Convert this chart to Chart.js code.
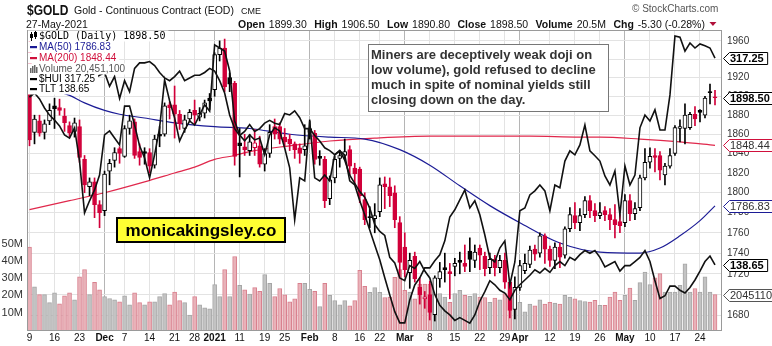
<!DOCTYPE html>
<html>
<head>
<meta charset="utf-8">
<script src="https://cdn.jsdelivr.net/npm/chart.js@4.4.0/dist/chart.umd.min.js"></script>
<style>
  html, body { margin: 0; padding: 0; background: #fff; }
</style>
</head>
<body>
<canvas id="chart" width="772" height="346"></canvas>
<script>
// Trading calendar (CME closed days are skipped)
const firstDay = '2020-11-09';
const lastDay = '2021-05-27';
const holidays = ['2020-11-26', '2020-12-25', '2021-01-01', '2021-01-18', '2021-02-15', '2021-04-02'];

// Axis labels
const tickDays = ['2020-11-09', '2020-11-16', '2020-11-23', '2020-12-01', '2020-12-07', '2020-12-14', '2020-12-21', '2020-12-28',
  '2021-01-04', '2021-01-11', '2021-01-19', '2021-01-25', '2021-02-01', '2021-02-08', '2021-02-16', '2021-02-22',
  '2021-03-01', '2021-03-08', '2021-03-15', '2021-03-22', '2021-03-29', '2021-04-01', '2021-04-12', '2021-04-19',
  '2021-04-26', '2021-05-03', '2021-05-10', '2021-05-17', '2021-05-24'];
const tickLabels = ['9', '16', '23', 'Dec', '7', '14', '21', '28', '2021', '11', '19', '25', 'Feb', '8', '16', '22',
  'Mar', '8', '15', '22', '29', 'Apr', '12', '19', '26', 'May', '10', '17', '24'];
const monthLabels = ['Dec', '2021', 'Feb', 'Mar', 'Apr', 'May'];
const priceTicks = [1680, 1700, 1720, 1740, 1760, 1780, 1800, 1820, 1840, 1860, 1880, 1900, 1920, 1940, 1960];
const volTicks = [10, 20, 30, 40, 50];

// $GOLD daily OHLC
const prevClose = 1951.7;
const opens = [1951,1862,1874,1862,1874,1890,1888,1879,1869,1863,
  1868,1834,1806,1811,1788,1782,1822,1833,1845,1837,
  1866,1873,1842,1842,1841,1828,1860,1860,1891,1891,
  1881,1866,1876,1885,1878,1882,1898,1907,1945,1952,
  1920,1914,1851,1847,1843,1846,1848,1829,1840,1868,
  1868,1857,1855,1850,1846,1844,1866,1861,1837,1834,
  1794,1815,1835,1838,1844,1825,1824,1793,1776,1774,
  1781,1809,1806,1800,1770,1746,1721,1737,1707,1696,
  1700,1681,1715,1726,1722,1727,1733,1730,1742,1733,
  1745,1737,1726,1734,1726,1733,1712,1686,1707,1723,
  1729,1744,1740,1757,1744,1733,1746,1738,1764,1777,
  1770,1778,1792,1782,1777,1782,1778,1773,1771,1770,
  1792,1779,1785,1815,1831,1838,1838,1818,1827,1840,
  1866,1866,1867,1881,1885,1880,1905,1899.3];
const highs = [1965,1880,1880,1875,1892,1898,1897,1887,1873,1877,
  1875,1838,1815,1815,1792,1822,1834,1846,1847,1869,
  1880,1876,1850,1846,1845,1859,1868,1893,1894,1911,
  1885,1880,1886,1896,1888,1896,1903,1947,1960,1962,
  1925,1916,1866,1860,1860,1865,1858,1845,1870,1876,
  1872,1866,1860,1852,1850,1870,1875,1864,1843,1837,
  1817,1837,1843,1855,1848,1830,1826,1800,1786,1789,
  1815,1816,1815,1807,1776,1760,1740,1741,1716,1703,
  1713,1718,1731,1740,1730,1735,1741,1748,1755,1748,
  1748,1741,1740,1738,1738,1740,1714,1717,1733,1739,
  1747,1748,1760,1759,1747,1750,1750,1766,1785,1790,
  1784,1796,1797,1789,1790,1786,1784,1788,1778,1798,
  1798,1790,1818,1845,1846,1845,1842,1830,1845,1869,
  1875,1892,1883,1889,1886,1900,1913,1906.5];
const lows = [1848,1850,1858,1855,1870,1866,1880,1863,1857,1857,
  1831,1800,1797,1775,1765,1777,1808,1826,1830,1836,
  1860,1835,1828,1829,1820,1825,1847,1858,1876,1856,
  1865,1862,1874,1870,1874,1877,1886,1900,1938,1905,
  1905,1828,1816,1838,1838,1838,1826,1822,1836,1855,
  1850,1848,1843,1835,1830,1838,1855,1829,1828,1785,
  1788,1810,1826,1834,1818,1808,1790,1768,1765,1760,
  1776,1784,1786,1765,1717,1717,1706,1712,1691,1687,
  1676,1675,1707,1712,1696,1718,1720,1722,1722,1726,
  1724,1718,1720,1718,1721,1706,1678,1677,1704,1720,
  1726,1733,1736,1730,1727,1725,1726,1735,1761,1764,
  1762,1775,1775,1771,1774,1772,1763,1755,1760,1766,
  1772,1773,1782,1813,1825,1821,1813,1808,1825,1838,
  1852,1850,1865,1869,1873,1877,1892,1890.8];
const closes = [1854,1876,1861,1871,1885,1887,1885,1872,1861,1872,
  1836,1808,1811,1788,1780,1819,1830,1841,1840,1866,
  1874,1838,1836,1840,1827,1855,1858,1890,1888,1881,
  1871,1875,1883,1880,1882,1893,1895,1945,1952,1910,
  1913,1837,1848,1844,1852,1851,1829,1840,1862,1860,
  1855,1852,1850,1844,1840,1848,1862,1834,1835,1792,
  1813,1834,1838,1842,1827,1819,1797,1773,1775,1777,
  1808,1806,1797,1773,1731,1724,1733,1715,1700,1698,
  1683,1716,1722,1724,1720,1730,1731,1727,1734,1741,
  1738,1725,1734,1726,1733,1712,1685,1707,1728,1730,
  1743,1739,1757,1744,1733,1746,1736,1764,1778,1770,
  1777,1792,1782,1777,1780,1778,1773,1768,1767,1792,
  1779,1784,1815,1831,1837,1836,1823,1827,1838,1867,
  1868,1880,1881,1876,1883,1898,1903.8,1898.5];

// volume, millions
const volume = [48,25,20.5,20.5,15.8,21.5,15.2,19.8,21.5,17.5,
  30.8,35,20.5,27.5,23.2,19.3,18.2,17.5,16.3,19.8,
  14.5,21.5,15.8,14.5,16.3,16.3,19.3,21,14.5,22,
  17,15.8,8.7,19.3,14.5,12.8,12.2,26.3,19.3,35,
  19.3,42.5,25.8,23.3,20.8,24.5,22.3,32,27,19.3,
  24,20.3,16.3,18,27,27,23.5,22.3,13.5,27,
  20,17,14.5,17,14,17,34.5,25.3,21.8,24.5,
  21.8,18.8,19,30.5,35,23,22,18,26.5,26.5,
  26.5,24,21,19,16,21,23,20,19.5,21,
  19,18.8,16,18.5,17.5,21,19.5,21,16,10.5,
  15,14,17.5,15,16,15.5,15,20,19,18,
  17,16.5,16.2,17.1,14.2,14.2,19,22,17.1,20,
  24.2,17.1,27.4,33.5,26.2,30.1,32.6,22,22,22,
  25.8,38.3,22,24,22,30.7,22,20.4511];

// moving averages, read at a few bars
const ma50At = [0,4,8,11,15,18,23,29,37,44,52,60,67,74,80,86,92,98,106,114,122,126,130,134,137];
const ma50 = [1912,1907,1901,1893,1885,1881,1877,1872,1868,1866,1860,1857,1855,1844,1828,1807,1787,1770,1750,1741,1740,1745,1757,1772,1786.83];
const ma200At = [0,8,15,23,29,33,37,41,44,52,60,69,80,90,100,110,114,122,130,137];
const ma200 = [1783,1792,1800,1811,1820,1826,1834,1838,1842,1848,1853,1856,1858,1858,1858,1857,1857,1855,1852,1848.44];

// overlays
const hui = [304.7,306.0,304.1,301.2,298.9,297.3,295.4,292.5,291.5,294.8,
  284.1,267.4,271.3,274.8,279.6,292.5,293.8,291.5,289.3,301.8,
  301.8,295.7,289.0,285.1,278.7,286.1,294.8,310.2,303.5,298.0,
  290.6,294.1,297.0,295.7,298.9,302.2,300.2,321.5,320.5,319.5,
  313.1,297.0,292.5,290.6,292.5,290.9,291.5,286.1,292.5,294.8,
  293.8,288.3,281.9,265.2,278.7,277.7,297.0,278.7,277.7,279.6,
  277.7,286.1,287.4,286.1,277.7,276.4,271.3,266.8,261.9,257.1,
  252.3,246.5,241.0,235.6,232.0,232.0,239.4,244.2,246.5,249.7,
  249.7,252.0,253.9,258.4,266.1,268.4,271.6,274.8,269.0,271.3,
  266.8,260.3,252.9,251.6,256.1,258.4,244.2,251.6,268.1,269.0,
  273.2,274.5,276.4,274.5,268.1,276.4,275.5,284.1,287.4,286.1,
  289.3,295.7,287.4,285.8,284.1,279.3,276.4,280.9,266.8,282.5,
  276.4,279.6,294.8,298.9,297.0,300.6,294.1,294.1,305.4,324.4,
  324.0,319.5,322.1,320.5,321.8,321.2,320.5,317.25];
const tlt = [150.9,151.4,151.8,152.15,152.3,152.5,152.7,152.9,152.7,152.5,
  152.3,152.15,152.0,152.3,152.5,152.7,151.7,152.4,150.8,152.1,
  151.3,153.0,153.4,153.4,153.5,153.2,152.7,152.3,152.1,152.4,
  152.8,152.1,152.3,152.5,152.5,152.7,153.0,152.8,152.1,151.2,
  149.6,148.6,148.1,148.4,148.9,148.4,148.6,149.0,149.2,149.0,
  148.9,149.7,149.6,149.9,149.4,148.6,148.6,148.1,147.7,147.2,
  147.0,146.7,147.0,146.3,145.2,144.6,144.0,143.6,142.8,141.6,
  141.1,140.8,139.2,138.8,137.7,137.5,138.6,138.4,138.9,138.2,
  137.7,136.5,135.7,135.3,135.0,134.6,134.8,134.6,134.4,135.0,
  136.0,136.7,137.5,137.2,136.8,136.6,136.1,136.8,137.2,137.55,
  137.9,138.3,138.06,138.4,138.1,138.6,138.9,138.6,139.2,139.0,
  139.4,139.7,139.5,139.7,139.2,138.5,138.7,138.9,138.2,138.6,
  138.6,138.9,139.2,139.7,138.9,137.5,136.2,136.4,137.1,137.1,
  136.8,136.6,137.0,137.55,138.2,138.9,139.3,138.65];

const FONT = '"Liberation Sans", Arial, sans-serif';
const RED = '#d1003a';
const BLACK = '#000';

const days = [];
for (let d = new Date(firstDay + 'T00:00:00Z'); d <= new Date(lastDay + 'T00:00:00Z'); d.setUTCDate(d.getUTCDate() + 1)) {
  const s = d.toISOString().slice(0, 10);
  const wd = d.getUTCDay();
  if (wd !== 0 && wd !== 6 && !holidays.includes(s)) days.push(s);
}
const tickIndex = tickDays.map(d => days.indexOf(d));
const labelAt = {};
tickIndex.forEach((ix, k) => { labelAt[ix] = tickLabels[k]; });
const isMonth = v => monthLabels.includes(labelAt[v]);

const prev = i => (i === 0 ? prevClose : closes[i - 1]);
const down = i => closes[i] < prev(i);
const last = closes.length - 1;

const ctxChart = document.getElementById('chart');

// background, frame, legend, notes and price tags
const decor = {
  id: 'decor',
  beforeDraw(chart) {
    const c = chart.ctx;
    c.save();
    c.fillStyle = '#fff';
    c.fillRect(0, 0, chart.width, chart.height);
    c.restore();
  },
  afterDraw(chart) {
    const c = chart.ctx;
    const a = chart.chartArea;
    c.save();

    // frame
    c.strokeStyle = '#9a9a9a';
    c.lineWidth = 1;
    c.strokeRect(a.left + 0.5, a.top + 0.5, a.right - a.left - 1, a.bottom - a.top);

    // header
    c.textBaseline = 'alphabetic';
    c.fillStyle = '#111';
    c.save();
    c.translate(27, 15);
    c.scale(0.8, 1);
    c.font = 'bold 15px ' + FONT;
    c.fillText('$GOLD', 0, 0);
    c.restore();
    c.font = '10.5px ' + FONT;
    c.fillText('Gold - Continuous Contract (EOD)', 74, 14);
    c.font = '9px ' + FONT;
    c.fillText('CME', 241, 14);
    c.font = '10.5px ' + FONT;
    c.fillText('27-May-2021', 26, 28);
    c.fillStyle = '#555';
    c.font = '10px ' + FONT;
    c.fillText('\u00A9 StockCharts.com', 632, 12);

    const parts = [['Open', '1899.30'], ['High', '1906.50'], ['Low', '1890.80'], ['Close', '1898.50'],
      ['Volume', '20.5M'], ['Chg', '-5.30 (-0.28%)']];
    let hx = 238;
    c.fillStyle = '#111';
    parts.forEach(([k, v]) => {
      c.font = 'bold 10.5px ' + FONT;
      c.fillText(k, hx, 28);
      hx += c.measureText(k).width + 4;
      c.font = '10.5px ' + FONT;
      c.fillText(v, hx, 28);
      hx += c.measureText(v).width + 7.5;
    });
    c.fillStyle = '#b0103a';
    c.beginPath();
    c.moveTo(hx - 3, 22); c.lineTo(hx + 4, 22); c.lineTo(hx + 0.5, 26); c.closePath();
    c.fill();

    // legend (each line on its own white backing)
    const leg = [
      { t: '$GOLD (Daily) 1898.50', col: '#000', f: '10px "DejaVu Sans Mono", monospace', y: 36, icon: 'candle' },
      { t: 'MA(50) 1786.83', col: '#1c1c96', f: '10px ' + FONT, y: 47, icon: 'line', ic: '#1c1c96' },
      { t: 'MA(200) 1848.44', col: '#d0103c', f: '10px ' + FONT, y: 58, icon: 'line', ic: '#d0103c' },
      { t: 'Volume 20,451,100', col: '#555', f: '10px ' + FONT, y: 69, icon: 'vol' },
      { t: '$HUI 317.25', col: '#000', f: '10px ' + FONT, y: 79, icon: 'line', ic: '#000' },
      { t: 'TLT 138.65', col: '#000', f: '10px ' + FONT, y: 89, icon: 'line', ic: '#000' }
    ];
    c.textBaseline = 'middle';
    leg.forEach(e => {
      c.font = e.f;
      const w = c.measureText(e.t).width;
      c.fillStyle = '#fff';
      c.fillRect(a.left + 1, e.y - 5.5, w + 14, 11);
      c.fillStyle = e.col;
      c.fillText(e.t, 39, e.y + 0.5);
      if (e.icon === 'line') {
        c.fillStyle = e.ic;
        c.fillRect(30, e.y - 1, 7, 2.2);
      } else if (e.icon === 'vol') {
        c.fillStyle = '#666';
        c.fillRect(30, e.y - 1, 1.5, 5); c.fillRect(32, e.y - 3, 1.5, 7); c.fillRect(34, e.y - 4, 1.5, 8); c.fillRect(36, e.y - 2, 1.5, 6);
      } else {
        c.fillStyle = '#000';
        c.fillRect(31, e.y - 4, 1, 9); c.fillRect(30, e.y - 2, 3, 4);
        c.fillRect(35, e.y - 5, 1, 8); c.strokeStyle = '#000'; c.strokeRect(34.5, e.y - 3.5, 2, 4);
      }
    });

    // comment box
    c.fillStyle = '#fff';
    c.fillRect(368, 44.5, 240, 67);
    c.strokeStyle = '#777';
    c.strokeRect(368.5, 44.5, 240, 67);
    c.fillStyle = '#333';
    c.font = 'bold 13px ' + FONT;
    ['Miners are deceptively weak doji on', 'low volume), gold refused to decline',
      'much in spite of nominal yields still', 'closing down on the day.']
      .forEach((s, k) => c.fillText(s, 371, 55 + k * 15));

    // site badge
    c.fillStyle = '#ffff33';
    c.fillRect(116, 217, 170, 26);
    c.strokeStyle = '#000';
    c.lineWidth = 2;
    c.strokeRect(117, 218, 168, 24);
    c.fillStyle = '#000';
    c.font = 'bold 17px ' + FONT;
    c.textAlign = 'center';
    c.fillText('monicakingsley.co', 201, 231);
    c.textAlign = 'left';

    // value tags on the right
    const s = chart.scales;
    const tag = (y, text, border, bold) => {
      const x = a.right + 1;
      c.font = (bold ? 'bold ' : '') + '11px ' + FONT;
      const w = c.measureText(text).width;
      c.beginPath();
      c.moveTo(x + 0.5, Math.round(y) + 0.5);
      c.lineTo(x + 6.5, Math.round(y) - 5.5);
      c.lineTo(x + 11 + w, Math.round(y) - 5.5);
      c.lineTo(x + 11 + w, Math.round(y) + 6.5);
      c.lineTo(x + 6.5, Math.round(y) + 6.5);
      c.closePath();
      c.fillStyle = '#fff';
      c.fill();
      c.lineWidth = 1;
      c.strokeStyle = border;
      c.stroke();
      c.fillStyle = bold ? '#000' : '#333';
      c.fillText(text, x + 7, Math.round(y) + 1);
    };
    tag(s.hui.getPixelForValue(hui[last]), hui[last].toFixed(2), '#000', true);
    tag(s.y.getPixelForValue(closes[last]), closes[last].toFixed(2), '#000', true);
    tag(s.y.getPixelForValue(ma200[ma200.length - 1]), ma200[ma200.length - 1].toFixed(2), '#d0103c', false);
    tag(s.y.getPixelForValue(ma50[ma50.length - 1]), ma50[ma50.length - 1].toFixed(2), '#1c1c96', false);
    tag(s.tlt.getPixelForValue(tlt[last]), tlt[last].toFixed(2), '#000', true);
    tag(s.vol.getPixelForValue(volume[last]), String(Math.round(volume[last] * 1e6)), '#555', false);

    c.restore();
  }
};

new Chart(ctxChart, {
  type: 'bar',
  data: {
    datasets: [
      {
        label: 'TLT', type: 'line', yAxisID: 'tlt', order: 1,
        data: tlt.map((v, i) => ({ x: i, y: v })),
        borderColor: '#111', borderWidth: 1.6, pointRadius: 0, tension: 0
      },
      {
        label: '$HUI', type: 'line', yAxisID: 'hui', order: 2,
        data: hui.map((v, i) => ({ x: i, y: v })),
        borderColor: '#111', borderWidth: 1.6, pointRadius: 0, tension: 0
      },
      {
        label: 'body', yAxisID: 'y', order: 3, grouped: false,
        data: closes.map((cl, i) => ({ x: i, y: [Math.min(opens[i], cl), Math.max(opens[i], cl)] })),
        backgroundColor: closes.map((cl, i) => (cl > opens[i] ? '#fff' : (down(i) ? RED : BLACK))),
        borderColor: closes.map((cl, i) => (down(i) ? RED : BLACK)),
        borderWidth: 1, borderSkipped: false, barThickness: 4, minBarLength: 1
      },
      {
        label: 'wick', yAxisID: 'y', order: 4, grouped: false,
        data: highs.map((h, i) => ({ x: i, y: [lows[i], h] })),
        backgroundColor: closes.map((cl, i) => (down(i) ? RED : BLACK)),
        borderWidth: 0, barThickness: 1
      },
      {
        label: 'MA(50)', type: 'line', yAxisID: 'y', order: 5,
        data: ma50At.map((x, k) => ({ x, y: ma50[k] })),
        borderColor: '#1c1c96', borderWidth: 1.2, pointRadius: 0, cubicInterpolationMode: 'monotone'
      },
      {
        label: 'MA(200)', type: 'line', yAxisID: 'y', order: 6,
        data: ma200At.map((x, k) => ({ x, y: ma200[k] })),
        borderColor: '#e0284c', borderWidth: 1.2, pointRadius: 0, cubicInterpolationMode: 'monotone'
      },
      {
        label: 'Volume', yAxisID: 'vol', order: 10, grouped: false,
        data: volume.map((v, i) => ({ x: i, y: v })),
        backgroundColor: volume.map((v, i) => (down(i) ? '#e8b2b9' : '#c3c3c3')),
        borderColor: volume.map((v, i) => (down(i) ? '#d9808e' : '#a6a6a6')),
        borderWidth: 1, borderSkipped: 'bottom', barThickness: 4
      }
    ]
  },
  options: {
    responsive: false,
    animation: false,
    devicePixelRatio: 1,
    layout: { padding: { top: 30, left: 0, right: 0, bottom: 0 } },
    plugins: { legend: { display: false }, tooltip: { enabled: false } },
    scales: {
      x: {
        type: 'linear', position: 'bottom', min: -0.5, max: 138.4, offset: false,
        afterBuildTicks: sc => { sc.ticks = tickIndex.map(v => ({ value: v })); },
        afterFit: sc => { sc.height = 16; },
        ticks: {
          autoSkip: false, maxRotation: 0, padding: 2, color: '#111',
          callback: v => labelAt[v],
          font: ctx => ({ family: FONT, size: 10, weight: ctx.tick && isMonth(ctx.tick.value) ? 'bold' : 'normal' })
        },
        grid: {
          drawTicks: false, offset: false,
          color: ctx => (ctx.tick && isMonth(ctx.tick.value) ? '#b5b5b5' : '#e3e3e3')
        },
        border: { display: false }
      },
      y: {
        type: 'logarithmic', position: 'right', min: 1666.6, max: 1972,
        afterBuildTicks: sc => { sc.ticks = priceTicks.map(v => ({ value: v })); },
        afterFit: sc => { sc.width = 50; },
        ticks: { callback: v => String(v), padding: 5, color: '#333', font: { family: FONT, size: 10 } },
        grid: { color: '#e3e3e3', drawTicks: false },
        border: { display: false }
      },
      vol: {
        type: 'linear', position: 'left', min: 0, max: 173.5,
        afterBuildTicks: sc => { sc.ticks = volTicks.map(v => ({ value: v })); },
        afterFit: sc => { sc.width = 27; },
        ticks: { callback: v => v + 'M', padding: 4, color: '#333', font: { family: FONT, size: 11 } },
        grid: { display: false, drawTicks: false },
        border: { display: false }
      },
      hui: { type: 'linear', display: false, min: 229.7, max: 326.3 },
      tlt: { type: 'linear', display: false, min: 133.9, max: 155.8 }
    }
  },
  plugins: [decor]
});
</script>
</body>
</html>
